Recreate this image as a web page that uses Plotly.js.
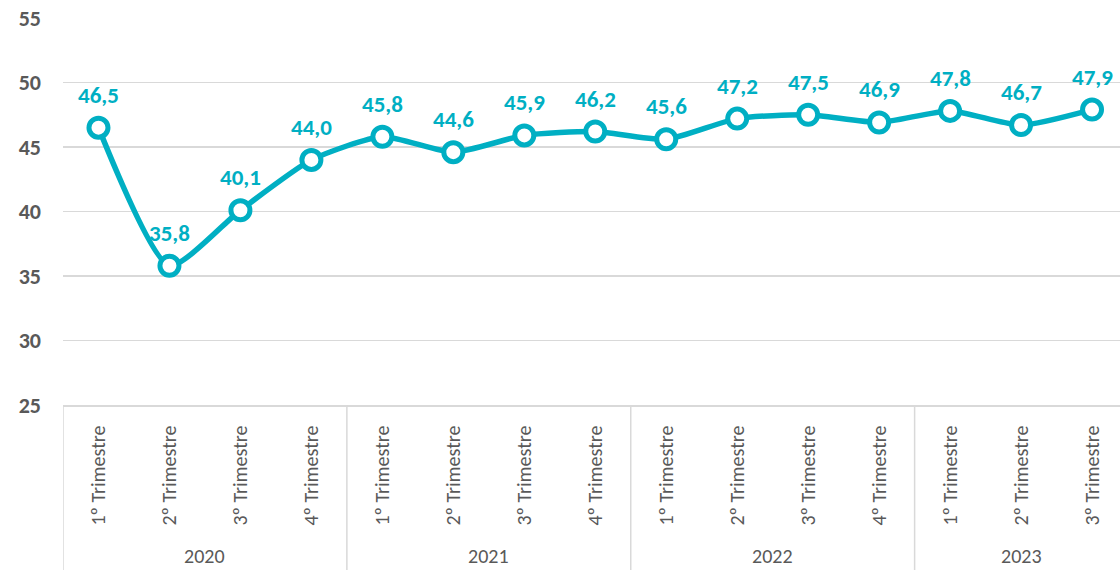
<!DOCTYPE html>
<html>
<head>
<meta charset="utf-8">
<script src="https://cdn.plot.ly/plotly-3.0.1.min.js"></script>
<style>html,body{margin:0;padding:0;background:#fff;}#chart{width:1120px;height:570px;}</style>
</head>
<body>
<div id="chart"></div>
<script>
const years = ['2020','2020','2020','2020','2021','2021','2021','2021','2022','2022','2022','2022','2023','2023','2023'];
const quarters = ['1º Trimestre','2º Trimestre','3º Trimestre','4º Trimestre','1º Trimestre','2º Trimestre','3º Trimestre','4º Trimestre','1º Trimestre','2º Trimestre','3º Trimestre','4º Trimestre','1º Trimestre','2º Trimestre','3º Trimestre'];
const values = [46.5,35.8,40.1,44.0,45.8,44.6,45.9,46.2,45.6,47.2,47.5,46.9,47.8,46.7,47.9];
const yTicks = [25,30,35,40,45,50,55];

const teal = '#00AFC3';
const gray = '#595959';
const font = 'Carlito, Lato, "Liberation Sans", sans-serif';
const xs = values.map((v,i)=>i);

// year groups
const groups = [];
years.forEach((y,i)=>{
  let g = groups.find(o=>o.name===y);
  if(!g){ g={name:y,first:i,last:i}; groups.push(g);} else g.last=i;
});

const annotations = values.map((v,i)=>({
  x:i, y:v, xref:'x', yref:'y', text: v.toFixed(1).replace('.',','),
  showarrow:false, yshift:33, font:{family:font,size:23,color:teal,weight:'bold'}
}));
groups.forEach(g=>{
  annotations.push({x:(g.first+g.last)/2, y:-0.39, xref:'x', yref:'paper', text:g.name,
    showarrow:false, yanchor:'middle', font:{family:font,size:20,color:gray}});
});
const shapes = [];
groups.forEach(g=>{
  shapes.push({type:'line', xref:'x', yref:'paper', x0:g.first-0.5, x1:g.first-0.5, y0:0, y1:-0.43,
    line:{color:'#d9d9d9', width:1.5}});
});

const trace = {
  x: xs, y: values, type:'scatter', mode:'lines+markers',
  line:{color:teal, width:5.5, shape:'spline', smoothing:0.6},
  marker:{size:19, color:'#ffffff', line:{color:teal, width:5}},
  cliponaxis:false, hoverinfo:'none'
};

const layout = {
  width:1120, height:570,
  margin:{l:63, r:0, t:18, b:165},
  paper_bgcolor:'#ffffff', plot_bgcolor:'#ffffff',
  showlegend:false,
  xaxis:{
    range:[-0.5, 14.394], tickmode:'array', tickvals:xs, ticktext:quarters,
    tickangle:-90, ticks:'', showgrid:false, zeroline:false,
    showline:true, linecolor:'#d9d9d9', linewidth:1.5,
    tickfont:{family:font, size:20, color:gray}, ticklabelstandoff:11
  },
  yaxis:{
    range:[25,55], tickmode:'array', tickvals:yTicks, ticks:'',
    showgrid:true, gridcolor:'#d9d9d9', gridwidth:1.5, zeroline:false, showline:false,
    tickfont:{family:font, size:22, color:gray, weight:'bold'}, ticklabelstandoff:21
  },
  annotations: annotations,
  shapes: shapes
};
Plotly.newPlot('chart',[trace],layout,{staticPlot:true, displayModeBar:false});
</script>
</body>
</html>
